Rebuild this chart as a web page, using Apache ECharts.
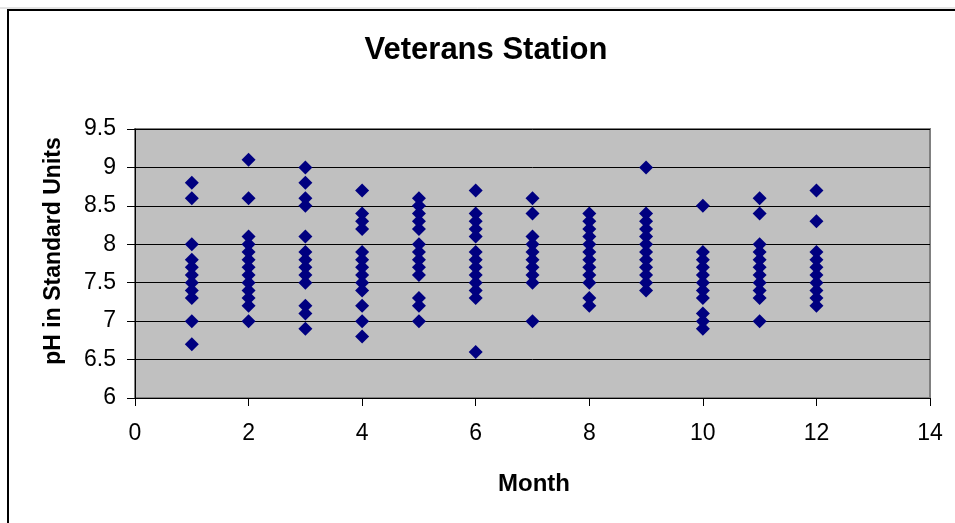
<!DOCTYPE html>
<html>
<head>
<meta charset="utf-8">
<script src="https://cdn.jsdelivr.net/npm/echarts@6/dist/echarts.min.js"></script>
<style>
  html, body { margin: 0; padding: 0; background: #fff; }
  #chart { width: 955px; height: 523px; }
</style>
</head>
<body>
<div id="chart"></div>
<script>
// pH readings per month at Veterans Station
const months = [1, 2, 3, 4, 5, 6, 7, 8, 9, 10, 11, 12];
const jan = [8.8, 8.6, 8.0, 7.8, 7.7, 7.6, 7.5, 7.4, 7.3, 7.0, 6.7];
const feb = [9.1, 8.6, 8.1, 8.0, 7.9, 7.8, 7.7, 7.6, 7.5, 7.4, 7.3, 7.2, 7.0];
const mar = [9.0, 8.8, 8.6, 8.5, 8.1, 7.9, 7.8, 7.7, 7.6, 7.5, 7.2, 7.1, 6.9];
const apr = [8.7, 8.4, 8.3, 8.2, 7.9, 7.8, 7.7, 7.6, 7.5, 7.4, 7.2, 7.0, 6.8];
const may = [8.6, 8.5, 8.4, 8.3, 8.2, 8.0, 7.9, 7.8, 7.7, 7.6, 7.3, 7.2, 7.0];
const jun = [8.7, 8.4, 8.3, 8.2, 8.1, 7.9, 7.8, 7.7, 7.6, 7.5, 7.4, 7.3, 6.6];
const jul = [8.6, 8.4, 8.1, 8.0, 7.9, 7.8, 7.7, 7.6, 7.5, 7.0];
const aug = [8.4, 8.3, 8.2, 8.1, 8.0, 7.9, 7.8, 7.7, 7.6, 7.5, 7.3, 7.2];
const sep = [9.0, 8.4, 8.3, 8.2, 8.1, 8.0, 7.9, 7.8, 7.7, 7.6, 7.5, 7.4];
const oct = [8.5, 7.9, 7.8, 7.7, 7.6, 7.5, 7.4, 7.3, 7.1, 7.0, 6.9];
const nov = [8.6, 8.4, 8.0, 7.9, 7.8, 7.7, 7.6, 7.5, 7.4, 7.3, 7.0];
const dec = [8.7, 8.3, 7.9, 7.8, 7.7, 7.6, 7.5, 7.4, 7.3, 7.2];
const readings = [jan, feb, mar, apr, may, jun, jul, aug, sep, oct, nov, dec];

const xTicks = { min: 0, max: 14, step: 2 };
const yTicks = { min: 6, max: 9.5, step: 0.5 };

const points = [];
months.forEach((m, i) => readings[i].forEach(v => points.push([m, v])));

const FONT = '"Liberation Sans", Arial, sans-serif';
const chart = echarts.init(document.getElementById('chart'), null, { renderer: 'canvas' });

chart.setOption({
  animation: false,
  backgroundColor: '#ffffff',
  grid: {
    left: 135, top: 129, right: 25, bottom: 125,
    show: true,
    backgroundColor: '#c0c0c0',
    borderColor: '#808080',
    borderWidth: 2
  },
  xAxis: {
    type: 'value',
    min: xTicks.min, max: xTicks.max, interval: xTicks.step,
    axisLine: { show: true, onZero: false, lineStyle: { color: '#000', width: 1 } },
    axisTick: { show: true, inside: false, length: 8, lineStyle: { color: '#000' } },
    axisLabel: { margin: 24, color: '#000', fontSize: 23, fontFamily: FONT },
    splitLine: { show: false }
  },
  yAxis: {
    type: 'value',
    min: yTicks.min, max: yTicks.max, interval: yTicks.step,
    axisLine: { show: true, onZero: false, lineStyle: { color: '#000', width: 1 } },
    axisTick: { show: true, inside: false, length: 8, lineStyle: { color: '#000' } },
    axisLabel: { margin: 19, color: '#000', fontSize: 23, fontFamily: FONT },
    splitLine: { show: true, lineStyle: { color: '#000', width: 1 } }
  },
  series: [{
    type: 'scatter',
    data: points,
    symbol: 'diamond',
    symbolSize: 14,
    itemStyle: { color: '#000080', opacity: 1 },
    z: 5
  }],
  graphic: [
    {
      type: 'line',
      shape: { x1: 0, y1: 8, x2: 955, y2: 8 },
      style: { stroke: '#c8c8c8', lineWidth: 1 },
      silent: true
    },
    {
      type: 'rect',
      shape: { x: 8, y: 10, width: 980, height: 540 },
      style: { fill: 'none', stroke: '#000', lineWidth: 2 },
      silent: true
    },
    {
      type: 'text',
      x: 486, y: 50,
      style: {
        text: 'Veterans Station',
        font: 'bold 31px ' + FONT,
        fill: '#000',
        align: 'center',
        verticalAlign: 'middle'
      }
    },
    {
      type: 'text',
      x: 54, y: 251,
      rotation: Math.PI / 2,
      style: {
        text: 'pH in Standard Units',
        font: 'bold 23px ' + FONT,
        fill: '#000',
        align: 'center',
        verticalAlign: 'middle'
      }
    },
    {
      type: 'text',
      x: 534, y: 484,
      style: {
        text: 'Month',
        font: 'bold 24px ' + FONT,
        fill: '#000',
        align: 'center',
        verticalAlign: 'middle'
      }
    }
  ]
});
</script>
</body>
</html>
